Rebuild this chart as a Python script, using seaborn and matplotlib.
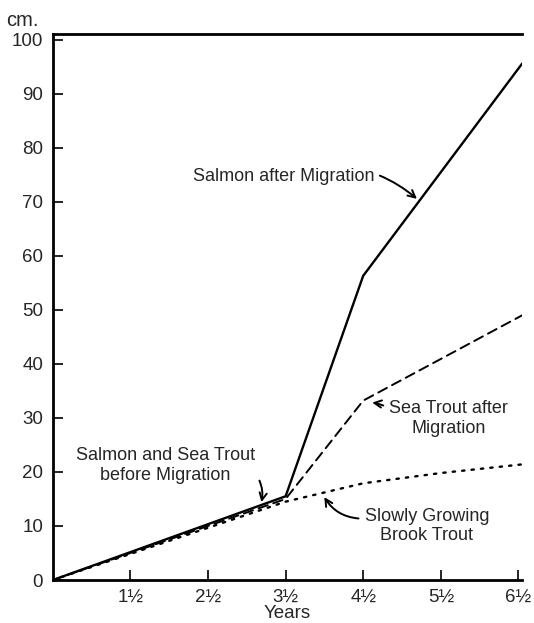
import matplotlib
matplotlib.use("Agg")
import matplotlib.pyplot as plt
import pandas as pd
import seaborn as sns

# growth curves (years, cm)
salmon_years = [0.5, 3.5, 4.5, 6.55]
salmon_cm = [0, 15.5, 56.3, 95.6]
sea_trout_years = [0.5, 3.5, 4.5, 6.55]
sea_trout_cm = [0, 15.0, 33.2, 49.0]
brook_years = [0.5, 3.5, 4.5, 5.5, 6.55]
brook_cm = [0, 14.5, 17.9, 19.8, 21.4]

x_ticks = [1.5, 2.5, 3.5, 4.5, 5.5, 6.5]
x_labels = ["1½", "2½", "3½", "4½", "5½", "6½"]
y_ticks = list(range(0, 101, 10))

df = pd.concat([
    pd.DataFrame({"years": salmon_years, "cm": salmon_cm, "fish": "salmon"}),
    pd.DataFrame({"years": sea_trout_years, "cm": sea_trout_cm, "fish": "sea trout"}),
    pd.DataFrame({"years": brook_years, "cm": brook_cm, "fish": "brook"}),
])

sns.set_style("ticks")
plt.rcParams["font.family"] = ["Liberation Sans", "DejaVu Sans"]

fig = plt.figure(figsize=(5.34, 6.23), dpi=100)
ax = fig.add_axes([0.099, 0.069, 0.879, 0.876])

styles = {"salmon": "-", "sea trout": (0, (5, 3)), "brook": (0, (1, 3))}
widths = {"salmon": 1.7, "sea trout": 1.4, "brook": 1.7}
for fish, grp in df.groupby("fish", sort=False):
    sns.lineplot(data=grp, x="years", y="cm", ax=ax, color="black",
                 linestyle=styles[fish], linewidth=widths[fish],
                 dash_capstyle="round", legend=False, sort=False)

ax.set_xlim(0.5, 6.55)
ax.set_ylim(0, 101)
ax.set_xticks(x_ticks)
ax.set_xticklabels(x_labels)
ax.set_yticks(y_ticks)
ax.tick_params(direction="in", length=7, width=1.2, labelsize=13.5, pad=7, color="black")
ax.tick_params(axis="x", pad=6)
ax.set_xlabel("Years", fontsize=13.5, labelpad=0)
ax.set_ylabel("")
ax.text(-0.03, 1.008, "cm.", transform=ax.transAxes, ha="right", va="bottom", fontsize=14.5)

for side in ["left", "bottom", "top"]:
    ax.spines[side].set_linewidth(2)
    ax.spines[side].set_color("black")
ax.spines["right"].set_visible(False)

arrow = dict(arrowstyle="->", color="black", lw=1.4)
ax.annotate("Salmon after Migration", xy=(5.22, 70.2), xytext=(2.3, 74.7),
            ha="left", va="center", fontsize=13,
            arrowprops=dict(arrow, connectionstyle="arc3,rad=-0.3"))
ax.annotate("Sea Trout after\nMigration", xy=(4.58, 32.9), xytext=(5.6, 29.9),
            ha="center", va="center", fontsize=13, linespacing=1.2,
            arrowprops=dict(arrow, connectionstyle="arc3,rad=0.1",
                            relpos=(0.0, 0.78)))
ax.annotate("Salmon and Sea Trout\nbefore Migration", xy=(3.18, 13.9), xytext=(1.95, 21.2),
            ha="center", va="center", fontsize=13, linespacing=1.2,
            arrowprops=dict(arrow, connectionstyle="arc3,rad=-0.3",
                            relpos=(0.97, 0.45)))
ax.annotate("Slowly Growing\nBrook Trout", xy=(3.98, 15.8), xytext=(5.32, 10.0),
            ha="center", va="center", fontsize=13, linespacing=1.2,
            arrowprops=dict(arrow, connectionstyle="arc3,rad=-0.3",
                            relpos=(0.0, 0.7)))

fig.savefig("out.png", dpi=100)
